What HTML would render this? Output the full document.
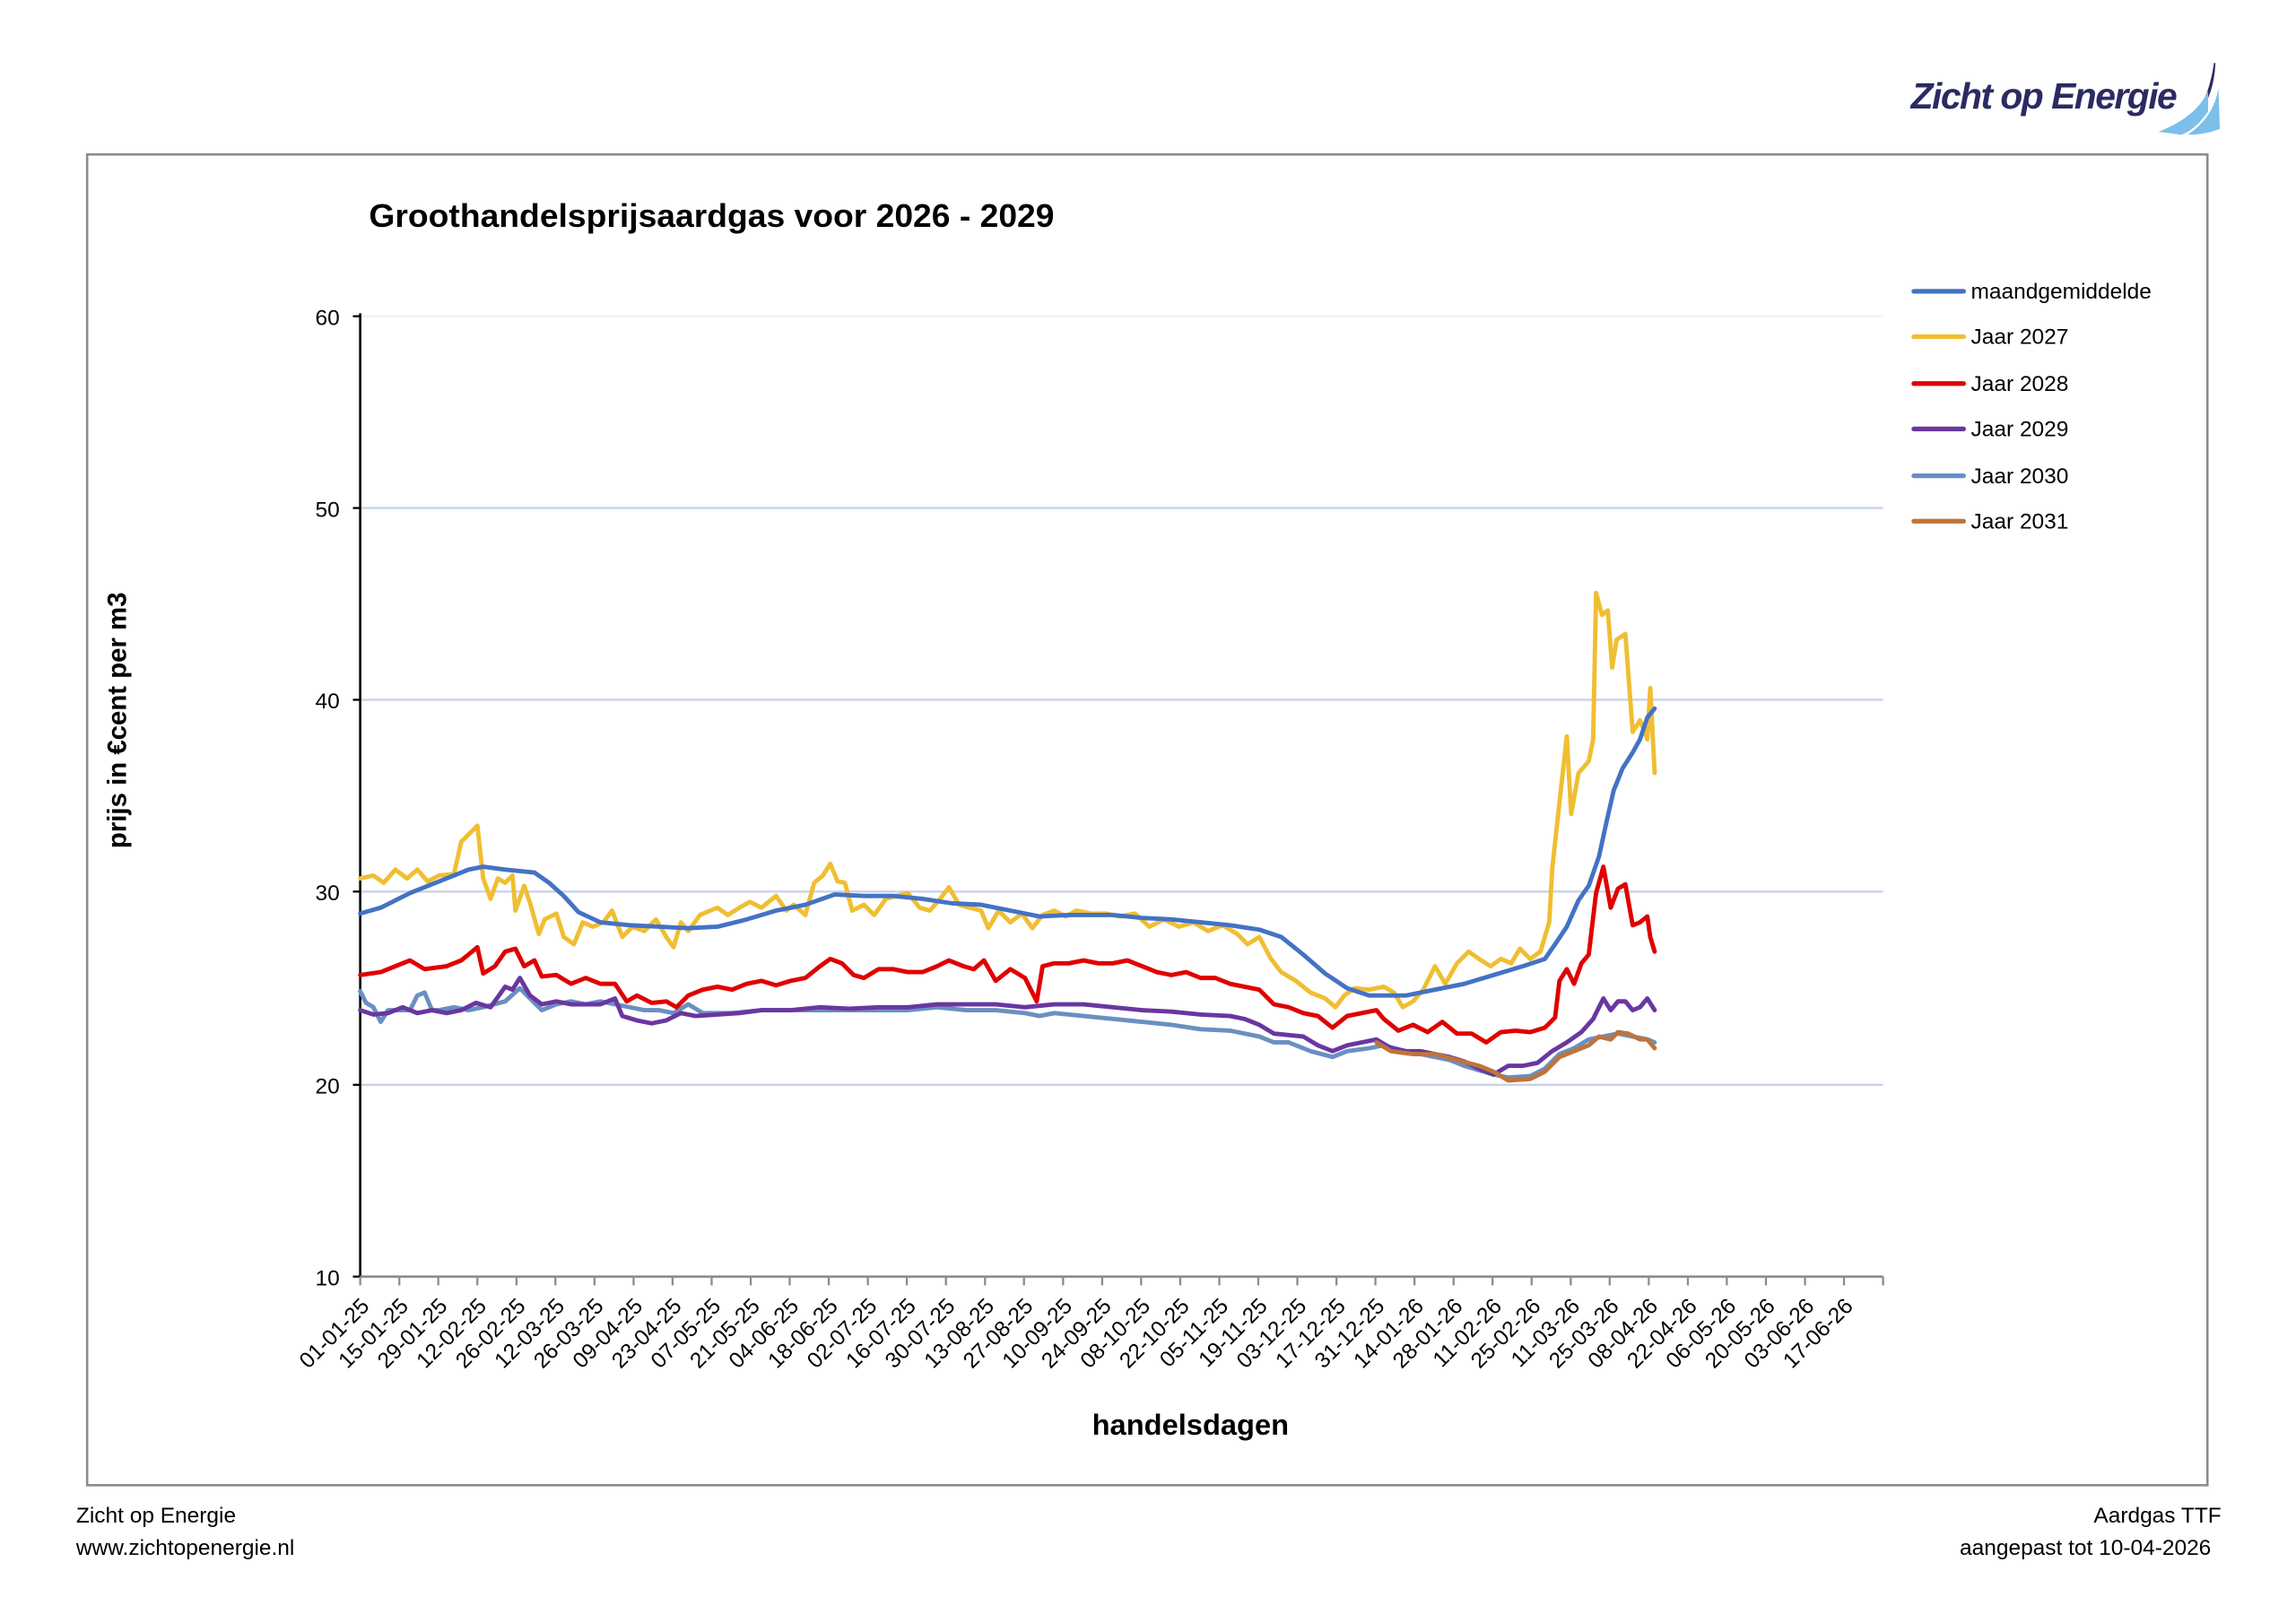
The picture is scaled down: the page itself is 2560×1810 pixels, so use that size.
<!DOCTYPE html>
<html><head><meta charset="utf-8"><style>html,body{margin:0;padding:0;background:#fff}svg{display:block}</style></head>
<body>
<svg width="2560" height="1810" viewBox="0 0 1568 1108.6" xmlns="http://www.w3.org/2000/svg" font-family="'Liberation Sans Narrow','Liberation Sans',sans-serif">
<rect width="1568" height="1108.6" fill="#fff"/>
<text x="1305" y="74" font-size="25" font-style="italic" font-weight="bold" fill="#2b2a63" font-family="'Liberation Sans',sans-serif" textLength="182">Zicht op Energie</text>
<path d="M1512,43 Q1508,70 1496,82 L1500,80 Q1512,66 1513,43Z" fill="#2b2a63"/>
<path d="M1474,90 Q1500,80 1508,62 L1508,76 Q1500,88 1490,92Z" fill="#7bbfea"/>
<path d="M1494,92 Q1512,80 1515,60 L1516,88 Q1506,92 1494,92Z" fill="#7bbfea"/>
<rect x="59.5" y="105.5" width="1448" height="909" fill="none" stroke="#8c8c8c" stroke-width="1.6"/>
<text x="252" y="155" font-size="22" font-weight="bold" fill="#000" font-family="'Liberation Sans',sans-serif" textLength="468" lengthAdjust="spacingAndGlyphs">Groothandelsprijsaardgas voor 2026 - 2029</text>
<g stroke="#c9d2ee" stroke-width="1.4">
<line x1="246" y1="216" x2="1286" y2="216" stroke="#eef0f8"/>
<line x1="246" y1="347" x2="1286" y2="347"/>
<line x1="246" y1="478" x2="1286" y2="478"/>
<line x1="246" y1="609" x2="1286" y2="609"/>
<line x1="246" y1="741" x2="1286" y2="741"/>
</g>
<line x1="246" y1="214" x2="246" y2="872" stroke="#000" stroke-width="1.6"/>
<line x1="246" y1="872" x2="1286" y2="872" stroke="#8c8c8c" stroke-width="1.6"/>
<g stroke="#000" stroke-width="1.4"><line x1="241" y1="216" x2="246" y2="216"/><line x1="241" y1="347" x2="246" y2="347"/><line x1="241" y1="478" x2="246" y2="478"/><line x1="241" y1="609" x2="246" y2="609"/><line x1="241" y1="741" x2="246" y2="741"/><line x1="241" y1="872" x2="246" y2="872"/></g>
<g font-size="15" text-anchor="end" fill="#000">
<text x="232" y="222">60</text><text x="232" y="353">50</text><text x="232" y="484">40</text><text x="232" y="615">30</text><text x="232" y="747">20</text><text x="232" y="878">10</text>
</g>
<text transform="translate(86,492) rotate(-90)" font-size="18" font-weight="bold" text-anchor="middle" font-family="'Liberation Sans',sans-serif">prijs in €cent  per m3</text>
<text x="813" y="980" font-size="20" font-weight="bold" text-anchor="middle">handelsdagen</text>
<g stroke="#8c8c8c" stroke-width="1.4">
<line x1="246" y1="872" x2="246" y2="878"/><line x1="272.7" y1="872" x2="272.7" y2="878"/><line x1="299.3" y1="872" x2="299.3" y2="878"/><line x1="326" y1="872" x2="326" y2="878"/><line x1="352.7" y1="872" x2="352.7" y2="878"/><line x1="379.3" y1="872" x2="379.3" y2="878"/><line x1="406" y1="872" x2="406" y2="878"/><line x1="432.7" y1="872" x2="432.7" y2="878"/><line x1="459.3" y1="872" x2="459.3" y2="878"/><line x1="486" y1="872" x2="486" y2="878"/><line x1="512.7" y1="872" x2="512.7" y2="878"/><line x1="539.3" y1="872" x2="539.3" y2="878"/><line x1="566" y1="872" x2="566" y2="878"/><line x1="592.7" y1="872" x2="592.7" y2="878"/><line x1="619.3" y1="872" x2="619.3" y2="878"/><line x1="646" y1="872" x2="646" y2="878"/><line x1="672.7" y1="872" x2="672.7" y2="878"/><line x1="699.3" y1="872" x2="699.3" y2="878"/><line x1="726" y1="872" x2="726" y2="878"/><line x1="752.7" y1="872" x2="752.7" y2="878"/><line x1="779.3" y1="872" x2="779.3" y2="878"/><line x1="806" y1="872" x2="806" y2="878"/><line x1="832.7" y1="872" x2="832.7" y2="878"/><line x1="859.3" y1="872" x2="859.3" y2="878"/><line x1="886" y1="872" x2="886" y2="878"/><line x1="912.7" y1="872" x2="912.7" y2="878"/><line x1="939.3" y1="872" x2="939.3" y2="878"/><line x1="966" y1="872" x2="966" y2="878"/><line x1="992.7" y1="872" x2="992.7" y2="878"/><line x1="1019.3" y1="872" x2="1019.3" y2="878"/><line x1="1046" y1="872" x2="1046" y2="878"/><line x1="1072.7" y1="872" x2="1072.7" y2="878"/><line x1="1099.3" y1="872" x2="1099.3" y2="878"/><line x1="1126" y1="872" x2="1126" y2="878"/><line x1="1152.7" y1="872" x2="1152.7" y2="878"/><line x1="1179.3" y1="872" x2="1179.3" y2="878"/><line x1="1206" y1="872" x2="1206" y2="878"/><line x1="1232.7" y1="872" x2="1232.7" y2="878"/><line x1="1259.3" y1="872" x2="1259.3" y2="878"/><line x1="1286" y1="872" x2="1286" y2="878"/>
</g>
<g font-size="15" text-anchor="end" fill="#000">
<text transform="translate(253,893) rotate(-45)">01-01-25</text>
<text transform="translate(279.7,893) rotate(-45)">15-01-25</text>
<text transform="translate(306.3,893) rotate(-45)">29-01-25</text>
<text transform="translate(333,893) rotate(-45)">12-02-25</text>
<text transform="translate(359.7,893) rotate(-45)">26-02-25</text>
<text transform="translate(386.3,893) rotate(-45)">12-03-25</text>
<text transform="translate(413,893) rotate(-45)">26-03-25</text>
<text transform="translate(439.7,893) rotate(-45)">09-04-25</text>
<text transform="translate(466.3,893) rotate(-45)">23-04-25</text>
<text transform="translate(493,893) rotate(-45)">07-05-25</text>
<text transform="translate(519.7,893) rotate(-45)">21-05-25</text>
<text transform="translate(546.3,893) rotate(-45)">04-06-25</text>
<text transform="translate(573,893) rotate(-45)">18-06-25</text>
<text transform="translate(599.7,893) rotate(-45)">02-07-25</text>
<text transform="translate(626.3,893) rotate(-45)">16-07-25</text>
<text transform="translate(653,893) rotate(-45)">30-07-25</text>
<text transform="translate(679.7,893) rotate(-45)">13-08-25</text>
<text transform="translate(706.3,893) rotate(-45)">27-08-25</text>
<text transform="translate(733,893) rotate(-45)">10-09-25</text>
<text transform="translate(759.7,893) rotate(-45)">24-09-25</text>
<text transform="translate(786.3,893) rotate(-45)">08-10-25</text>
<text transform="translate(813,893) rotate(-45)">22-10-25</text>
<text transform="translate(839.7,893) rotate(-45)">05-11-25</text>
<text transform="translate(866.3,893) rotate(-45)">19-11-25</text>
<text transform="translate(893,893) rotate(-45)">03-12-25</text>
<text transform="translate(919.7,893) rotate(-45)">17-12-25</text>
<text transform="translate(946.3,893) rotate(-45)">31-12-25</text>
<text transform="translate(973,893) rotate(-45)">14-01-26</text>
<text transform="translate(999.7,893) rotate(-45)">28-01-26</text>
<text transform="translate(1026.3,893) rotate(-45)">11-02-26</text>
<text transform="translate(1053,893) rotate(-45)">25-02-26</text>
<text transform="translate(1079.7,893) rotate(-45)">11-03-26</text>
<text transform="translate(1106.3,893) rotate(-45)">25-03-26</text>
<text transform="translate(1133,893) rotate(-45)">08-04-26</text>
<text transform="translate(1159.7,893) rotate(-45)">22-04-26</text>
<text transform="translate(1186.3,893) rotate(-45)">06-05-26</text>
<text transform="translate(1213,893) rotate(-45)">20-05-26</text>
<text transform="translate(1239.7,893) rotate(-45)">03-06-26</text>
<text transform="translate(1266.3,893) rotate(-45)">17-06-26</text>
</g>
<g fill="none" stroke-width="3" stroke-linejoin="round" stroke-linecap="round">
<polyline stroke="#6a8fc2" points="246,677 250,685 255,688 260,698 265,690 280,690 285,680 290,678 295,690 300,690 310,688 320,690 330,688 345,684 355,675 360,680 370,690 380,686 390,684 400,686 410,684 420,686 430,688 440,690 450,690 460,692 470,686 480,692 500,692 520,690 540,690 560,690 580,690 600,690 620,690 640,688 660,690 680,690 700,692 710,694 720,692 740,694 760,696 780,698 800,700 820,703 840,704 860,708 870,712 880,712 895,718 910,722 920,718 935,716 945,714 960,718 970,720 990,724 1000,728 1020,734 1030,736 1045,735 1055,730 1065,720 1075,716 1085,710 1095,708 1105,706 1115,708 1125,710 1130,712"/>
<polyline stroke="#6a36a0" points="246,690 255,693 265,692 275,688 285,692 295,690 305,692 315,690 325,685 335,688 345,674 350,676 355,668 362,680 370,686 380,684 390,686 400,686 410,686 420,682 425,694 435,697 445,699 455,697 465,692 475,694 490,693 505,692 520,690 540,690 560,688 580,689 600,688 620,688 640,686 660,686 680,686 700,688 720,686 740,686 760,688 780,690 800,691 820,693 840,694 850,696 860,700 870,706 890,708 900,714 910,718 920,714 930,712 940,710 950,716 960,718 970,718 980,720 990,722 1000,725 1010,730 1020,734 1030,728 1040,728 1050,726 1060,718 1070,712 1080,705 1088,696 1095,682 1100,690 1105,684 1110,684 1115,690 1120,688 1125,682 1130,690"/>
<polyline stroke="#c0733a" points="940,712 950,718 965,720 980,720 995,724 1010,728 1020,732 1030,738 1045,737 1055,732 1065,722 1075,718 1085,714 1092,708 1100,710 1105,705 1112,706 1120,710 1125,710 1130,716"/>
<polyline stroke="#e00000" points="246,666 260,664 270,660 280,656 290,662 305,660 315,656 320,652 326,647 330,665 338,660 345,650 352,648 358,660 365,656 370,667 380,666 390,672 400,668 410,672 420,672 428,684 435,680 445,685 455,684 462,688 470,680 480,676 490,674 500,676 510,672 520,670 530,673 540,670 550,668 560,660 567,655 575,658 583,666 590,668 600,662 610,662 620,664 630,664 640,660 648,656 658,660 665,662 672,656 680,670 690,662 700,668 708,684 712,660 720,658 730,658 740,656 750,658 760,658 770,656 780,660 790,664 800,666 810,664 820,668 830,668 840,672 850,674 860,676 870,686 880,688 890,692 900,694 910,702 920,694 930,692 940,690 945,696 955,704 965,700 975,705 985,698 995,706 1005,706 1015,712 1025,705 1035,704 1045,705 1055,702 1062,695 1065,670 1070,662 1075,672 1080,658 1085,652 1090,610 1095,592 1100,620 1105,607 1110,604 1115,632 1120,630 1125,626 1127,640 1130,650"/>
<polyline stroke="#f0be32" points="246,600 255,598 262,603 270,594 278,600 285,594 292,602 300,598 310,597 315,575 320,570 326,564 330,600 335,614 340,600 345,603 350,598 352,622 358,605 362,617 368,638 372,628 380,624 385,640 392,645 398,630 405,633 412,630 418,622 425,640 432,633 440,636 448,628 455,640 460,647 465,630 470,636 478,625 485,622 490,620 497,625 505,620 512,616 520,620 530,612 537,622 542,618 550,625 556,603 562,598 567,590 572,602 577,603 582,622 590,618 597,625 605,614 612,612 620,610 628,620 635,622 642,614 648,606 655,618 662,620 670,622 675,634 682,622 690,630 698,624 705,634 712,625 720,622 728,626 735,622 745,624 755,624 765,626 775,624 785,633 795,628 805,633 815,630 825,636 835,632 845,638 852,645 860,640 868,655 875,664 885,670 895,678 905,682 912,688 918,680 925,675 935,676 945,674 952,678 958,688 965,684 972,676 980,660 987,672 995,658 1003,650 1010,655 1018,660 1025,655 1032,658 1038,648 1045,655 1052,650 1058,630 1060,594 1065,548 1070,503 1073,556 1078,528 1085,520 1088,505 1090,405 1094,420 1098,417 1101,456 1104,437 1110,433 1115,500 1120,492 1125,505 1127,470 1130,528"/>
<polyline stroke="#4472c4" points="246,624 260,620 280,610 300,602 320,594 330,592 345,594 365,596 375,603 385,612 395,623 410,630 430,632 450,633 470,634 490,633 510,628 530,622 550,618 570,611 590,612 610,612 630,614 650,617 670,618 690,622 710,626 730,625 760,625 780,627 800,628 820,630 840,632 860,635 875,640 890,652 905,665 920,675 935,680 960,680 980,676 1000,672 1020,666 1040,660 1055,655 1062,645 1070,633 1078,615 1085,605 1092,585 1097,562 1102,540 1108,525 1115,514 1120,505 1125,490 1130,484"/>
</g>
<g stroke-width="3.2" stroke-linecap="round">
<line x1="1307" y1="199" x2="1341" y2="199" stroke="#4472c4"/>
<line x1="1307" y1="230" x2="1341" y2="230" stroke="#f0be32"/>
<line x1="1307" y1="262" x2="1341" y2="262" stroke="#e00000"/>
<line x1="1307" y1="293" x2="1341" y2="293" stroke="#6a36a0"/>
<line x1="1307" y1="325" x2="1341" y2="325" stroke="#6a8fc2"/>
<line x1="1307" y1="356" x2="1341" y2="356" stroke="#c0733a"/>
</g>
<g font-size="15" fill="#000">
<text x="1346" y="204">maandgemiddelde</text>
<text x="1346" y="235">Jaar 2027</text>
<text x="1346" y="267">Jaar 2028</text>
<text x="1346" y="298">Jaar 2029</text>
<text x="1346" y="330">Jaar 2030</text>
<text x="1346" y="361">Jaar 2031</text>
</g>
<g font-size="15" fill="#000">
<text x="52" y="1040">Zicht op Energie</text>
<text x="52" y="1062">www.zichtopenergie.nl</text>
<text x="1517" y="1040" text-anchor="end">Aardgas TTF</text>
<text x="1510" y="1062" text-anchor="end">aangepast tot 10-04-2026</text>
</g>
</svg>
</body></html>
